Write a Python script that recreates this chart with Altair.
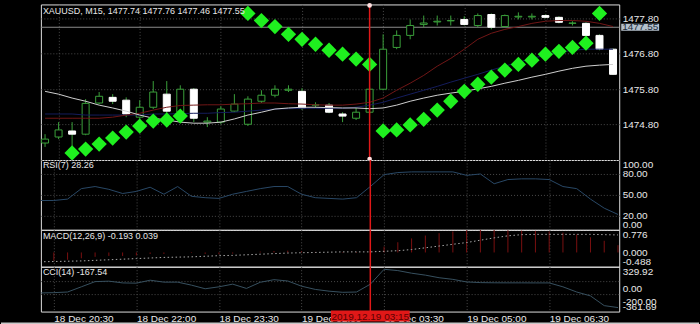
import json
import altair as alt
import pandas as pd

# ---------------- data ----------------
bar_index = list(range(-1, 42))
opens = [1474.28, 1474.45, 1474.62, 1474.53, 1475.41, 1475.57, 1475.49, 1475.01, 1475.29, 1475.66,
         1475.15, 1475.80, 1474.87, 1474.87, 1475.18, 1474.81, 1475.46, 1475.63, 1475.77, 1475.74,
         1475.35, 1475.35, 1475.10, 1474.98, 1475.15, 1475.80, 1476.98, 1477.32, 1477.63, 1477.70,
         1477.73, 1477.77, 1477.60, 1477.91, 1477.57, 1477.84, 1477.84, 1477.88, 1477.83, 1477.66,
         1477.66, 1477.32, 1476.93]
highs = [1474.53, 1474.87, 1474.87, 1475.52, 1475.72, 1475.66, 1475.57, 1475.49, 1476.03, 1476.03,
         1475.91, 1475.83, 1475.01, 1475.32, 1475.66, 1475.60, 1475.77, 1475.91, 1475.91, 1475.83,
         1475.43, 1475.41, 1475.15, 1475.27, 1475.86, 1477.35, 1477.46, 1477.77, 1477.88, 1477.88,
         1477.88, 1477.86, 1477.94, 1477.94, 1477.91, 1477.97, 1477.94, 1477.91, 1477.86, 1477.72,
         1477.69, 1477.35, 1476.95]
lows = [1474.17, 1474.39, 1474.11, 1474.50, 1475.38, 1475.38, 1475.01, 1474.96, 1475.24, 1475.12,
        1475.10, 1474.87, 1474.73, 1474.81, 1475.15, 1474.76, 1475.41, 1475.57, 1475.72, 1475.21,
        1475.27, 1475.12, 1474.87, 1474.93, 1475.10, 1475.77, 1476.93, 1477.21, 1477.55, 1477.60,
        1477.60, 1477.60, 1477.55, 1477.49, 1477.55, 1477.77, 1477.77, 1477.80, 1477.66, 1477.60,
        1477.29, 1476.90, 1476.20]
closes = [1474.39, 1474.65, 1474.53, 1475.40, 1475.60, 1475.46, 1475.10, 1475.29, 1475.72, 1475.18,
          1475.80, 1474.98, 1474.90, 1475.24, 1475.38, 1475.52, 1475.63, 1475.80, 1475.80, 1475.27,
          1475.36, 1475.15, 1475.04, 1475.15, 1475.80, 1476.93, 1477.32, 1477.60, 1477.67, 1477.72,
          1477.74, 1477.63, 1477.88, 1477.55, 1477.88, 1477.86, 1477.86, 1477.83, 1477.69, 1477.67,
          1477.32, 1476.93, 1476.22]
ma_white = [1475.74, 1475.66, 1475.55, 1475.46, 1475.35, 1475.27, 1475.18, 1475.07, 1474.98, 1474.93,
            1474.87, 1474.84, 1474.84, 1474.87, 1474.96, 1475.07, 1475.15, 1475.24, 1475.27, 1475.29,
            1475.29, 1475.28, 1475.27, 1475.27, 1475.25, 1475.27, 1475.35, 1475.46, 1475.55, 1475.63,
            1475.69, 1475.74, 1475.81, 1475.88, 1475.97, 1476.05, 1476.14, 1476.22, 1476.31, 1476.39,
            1476.45, 1476.48, 1476.50]
ma_red = [1474.98, 1474.98, 1474.98, 1474.98, 1474.98, 1475.01, 1475.07, 1475.12, 1475.21, 1475.29,
          1475.34, 1475.35, 1475.36, 1475.36, 1475.38, 1475.39, 1475.41, 1475.41, 1475.39, 1475.38,
          1475.36, 1475.35, 1475.35, 1475.38, 1475.43, 1475.55, 1475.77, 1475.97, 1476.19, 1476.45,
          1476.67, 1476.93, 1477.21, 1477.38, 1477.49, 1477.57, 1477.66, 1477.72, 1477.74, 1477.74,
          1477.72, 1477.66, 1477.57]
ma_blue = [1475.10, 1475.10, 1475.10, 1475.07, 1475.07, 1475.07, 1475.07, 1475.07, 1475.10, 1475.10,
           1475.11, 1475.12, 1475.12, 1475.14, 1475.15, 1475.18, 1475.21, 1475.24, 1475.25, 1475.26,
           1475.26, 1475.26, 1475.26, 1475.29, 1475.35, 1475.43, 1475.55, 1475.66, 1475.77, 1475.88,
           1476.00, 1476.11, 1476.22, 1476.34, 1476.45, 1476.56, 1476.67, 1476.76, 1476.84, 1476.90,
           1476.93, 1476.93, 1476.93]
sar = [None, None, 1474.00, 1474.11, 1474.25, 1474.42, 1474.59, 1474.76, 1474.90, 1474.93,
       1475.04, None, None, None, None, 1477.94, 1477.74, 1477.57, 1477.35, 1477.21,
       1477.07, 1476.90, 1476.79, 1476.65, 1476.50, 1474.62, 1474.65, 1474.79, 1474.95, 1475.21,
       1475.46, 1475.74, 1475.94, 1476.14, 1476.34, 1476.50, 1476.62, 1476.79, 1476.87, 1476.98,
       1477.10, 1477.94, None]
rsi = [42, 42, 44, 59, 62, 58, 52, 55, 61, 51,
       62, 48, 46, 45, 51, 55, 59, 62, 62, 51,
       46, 45, 44, 46, 62, 79, 82, 83, 83, 83,
       83, 78, 80, 66, 72, 73, 73, 72, 62, 59,
       44, 31, 22]
macd_hist = [-0.30, -0.28, -0.25, -0.20, -0.15, -0.12, -0.12, -0.10, -0.05, -0.05,
             0.00, -0.02, -0.05, -0.06, -0.04, 0.00, 0.03, 0.05, 0.06, 0.04,
             0.02, 0.00, -0.02, -0.02, 0.05, 0.20, 0.35, 0.48, 0.58, 0.66,
             0.72, 0.76, 0.776, 0.77, 0.76, 0.75, 0.74, 0.72, 0.68, 0.62,
             0.52, 0.40, 0.25]
macd_signal = [-0.32, -0.31, -0.30, -0.29, -0.27, -0.25, -0.23, -0.21, -0.19, -0.17,
               -0.16, -0.15, -0.13, -0.11, -0.10, -0.08, -0.06, -0.04, -0.02, -0.01,
               0.00, 0.01, 0.02, 0.02, 0.02, 0.04, 0.06, 0.10, 0.16, 0.22,
               0.28, 0.34, 0.42, 0.50, 0.57, 0.61, 0.62, 0.62, 0.62, 0.62,
               0.62, 0.61, 0.60]
cci = [-75, -70, -60, 20, 100, 107, 80, 76, 122, 92,
       92, 46, -10, 20, 61, -5, 90, 130, 110, 30,
       -20, -47, -65, -60, 60, 290, 270, 230, 200, 160,
       135, 95, 85, 82, 81, 81, 80, 80, 20, -60,
       -120, -270, -300]

tick_idx = [0, 6, 12, 18, 24, 30, 36]
tick_labels = ["18 Dec 20:30", "18 Dec 22:00", "18 Dec 23:30", "19 Dec 02:00",
               "19 Dec 03:30", "19 Dec 05:00", "19 Dec 06:30"]
price_ticks = [1474.80, 1475.80, 1476.80, 1477.80]
price_domain = [1473.80, 1478.194]
rsi_ticks = [0, 20, 50, 80, 100]
macd_ticks = [-0.488, 0.0, 0.776]
cci_ticks = [-361.69, -200.0, 0.0, 329.92]
cci_levels = [100, -100]
bid_price = 1477.55
cursor_index = 23
cursor_label = "2019.12.19 03:15"
title_text = "XAUUSD, M15, 1477.74 1477.76 1477.46 1477.55"
rsi_text = "RSI(7) 28.26"
macd_text = "MACD(12,26,9) -0.193 0.039"
cci_text = "CCI(14) -167.54"

df = pd.DataFrame(dict(i=bar_index, open=opens, high=highs, low=lows, close=closes,
                       maw=ma_white, mar=ma_red, mab=ma_blue, sar=sar, rsi=rsi,
                       hist=macd_hist, sig=macd_signal, cci=cci))
df["zero"] = 0.0

# ---------------- style ----------------
FONT = "Liberation Sans"
TXT = "#e8e8e8"
GRID = "#4a4a4a"
GREEN = "#3aa03a"
LIME = "#1ff01f"
RED = "#e01818"
W = 580
H_MAIN, H_RSI, H_MACD, H_CCI = 156, 70, 37, 45

xscale = alt.Scale(domain=[-0.94, 41.09], nice=False, zero=False)
grid_props = dict(grid=True, gridColor=GRID, gridDash=[1, 2], gridWidth=1)
x_axis_hidden = alt.Axis(values=tick_idx, labels=False, ticks=False, domain=False,
                         title=None, **grid_props)
label_expr_x = f"{json.dumps(tick_labels)}[indexof({json.dumps(tick_idx)}, datum.value)]"
x_axis_bottom = alt.Axis(values=tick_idx, labelExpr=label_expr_x, labelAlign="left",
                         labelBaseline="top", labelPadding=2, labelFlush=False,
                         labelOverlap=False, labelColor=TXT, labelFontSize=10,
                         labelFont=FONT, ticks=False, tickSize=0, domain=False,
                         title=None, **grid_props)


def yaxis(values, fmt, grid):
    props = dict(orient="right", values=values,
                 labelExpr=f"replace(format(datum.value, '{fmt}'), '\u2212', '-')",
                 ticks=False, domain=False, labelColor=TXT, labelFontSize=10,
                 labelFont=FONT, labelPadding=3, title=None, labelFlush=True,
                 labelOverlap=False)
    if grid:
        props.update(grid_props)
    else:
        props["grid"] = False
    return alt.Axis(**props)


def panel(height, yscale, yax, xax, layers_fn):
    def X(field=None, datum=None):
        if datum is not None:
            return alt.X(datum=datum, type="quantitative", scale=xscale, axis=xax)
        return alt.X(field, type="quantitative", scale=xscale, axis=xax)

    def Y(field=None, datum=None):
        if datum is not None:
            return alt.Y(datum=datum, type="quantitative", scale=yscale, axis=yax)
        return alt.Y(field, type="quantitative", scale=yscale, axis=yax)

    layers = layers_fn(X, Y)
    return alt.layer(*layers).properties(width=W, height=height)


def label_chart(text, yv):
    return alt.Chart(pd.DataFrame({"t": [text]})).mark_text(
        align="left", baseline="middle", color=TXT, fontSize=9, font=FONT
    ).encode(x=alt.value(2), y=alt.value(yv), text="t:N")


def cursor_rule(X):
    return alt.Chart(pd.DataFrame({"c": [cursor_index]})).mark_rule(
        color=RED, strokeWidth=1.5).encode(x=X(datum=cursor_index))


# ---- main price panel ----
def main_layers(X, Y):
    base = alt.Chart(df)
    bid = pd.DataFrame({"p": [bid_price]})
    bull = "datum.close >= datum.open"
    return [
        alt.Chart(bid).mark_rule(color="#8c8c8c", strokeWidth=1).encode(y=Y("p")),
        base.mark_rule(color=GREEN, strokeWidth=1, clip=True).encode(
            x=X("i"), y=Y("low"), y2="high:Q"),
        base.mark_bar(size=7, strokeWidth=1, clip=True).encode(
            x=X("i"), y=Y("open"), y2="close:Q",
            fill=alt.condition(bull, alt.value("#000000"), alt.value("#ffffff")),
            stroke=alt.condition(bull, alt.value(GREEN), alt.value("#ffffff"))),
        base.mark_line(color="#141c5c", strokeWidth=1, clip=True).encode(x=X("i"), y=Y("mab")),
        base.mark_line(color="#701616", strokeWidth=1, clip=True).encode(x=X("i"), y=Y("mar")),
        base.mark_line(color="#cfcfcf", strokeWidth=1, clip=True).encode(x=X("i"), y=Y("maw")),
        base.mark_point(shape="diamond", filled=True, size=235, color=LIME, opacity=1,
                        clip=True).encode(x=X("i"), y=Y("sar")),
        cursor_rule(X),
        alt.Chart(pd.DataFrame({"c": [cursor_index]})).mark_point(
            shape="circle", filled=True, size=22, color="#ffe0e0", opacity=1
        ).encode(x=X(datum=cursor_index), y=alt.value(1)),
        alt.Chart(pd.DataFrame({"c": [cursor_index]})).mark_point(
            shape="circle", filled=True, size=22, color="#ffe0e0", opacity=1
        ).encode(x=X(datum=cursor_index), y=alt.value(155)),
        label_chart(title_text, 7),
        alt.Chart(bid).transform_calculate(lo="datum.p - 0.1", hi="datum.p + 0.1").mark_rect(
            color="#b4c0cc").encode(x=alt.value(582), x2=alt.value(620), y=Y("lo"), y2="hi:Q"),
        alt.Chart(bid).mark_text(align="left", baseline="middle", color="#1a2a3a",
                                 fontSize=10, font=FONT).encode(
            x=alt.value(583), y=Y("p"), text=alt.Text("p:Q", format=".2f")),
    ]


main = panel(H_MAIN, alt.Scale(domain=price_domain, nice=False, zero=False),
             yaxis(price_ticks, ".2f", True), x_axis_hidden, main_layers)


# ---- RSI ----
def rsi_layers(X, Y):
    return [
        alt.Chart(df).mark_line(color="#294866", strokeWidth=1, clip=True).encode(
            x=X("i"), y=Y("rsi")),
        cursor_rule(X),
        label_chart(rsi_text, 5),
    ]


rsi_p = panel(H_RSI, alt.Scale(domain=[0, 100], nice=False, zero=False),
              yaxis(rsi_ticks, ".2f", True), x_axis_hidden, rsi_layers)


# ---- MACD ----
def macd_layers(X, Y):
    return [
        alt.Chart(df).mark_rule(color="#7a1010", strokeWidth=1, clip=True).encode(
            x=X("i"), y=Y("hist"), y2="zero:Q"),
        alt.Chart(df).mark_line(color="#a8a8a8", strokeWidth=1, strokeDash=[1.5, 2.5],
                                clip=True).encode(x=X("i"), y=Y("sig")),
        cursor_rule(X),
        label_chart(macd_text, 6),
    ]


macd_p = panel(H_MACD, alt.Scale(domain=[-0.488, 0.776], nice=False, zero=False),
               yaxis(macd_ticks, ".3f", False), x_axis_hidden, macd_layers)


# ---- CCI ----
def cci_layers(X, Y):
    return [
        alt.Chart(pd.DataFrame({"lv": cci_levels})).mark_rule(
            color=GRID, strokeDash=[1, 2], strokeWidth=1).encode(y=Y("lv")),
        alt.Chart(df).mark_line(color="#37505f", strokeWidth=1, clip=True).encode(
            x=X("i"), y=Y("cci")),
        cursor_rule(X),
        label_chart(cci_text, 5),
        alt.Chart(pd.DataFrame({"c": [cursor_index]})).mark_rect(color=RED).encode(
            x=X(datum=cursor_index - 2.86), x2=alt.X2(datum=cursor_index + 2.86),
            y=alt.value(44), y2=alt.value(55)),
        alt.Chart(pd.DataFrame({"t": [cursor_label]})).mark_text(
            align="center", baseline="middle", color="#5c0000", fontSize=10, font=FONT
        ).encode(x=X(datum=cursor_index), y=alt.value(50), text="t:N"),
        alt.Chart(pd.DataFrame({"c": [0]})).mark_rect(color="#c8c8c8").encode(
            x=alt.value(-40), x2=alt.value(660), y=alt.value(56), y2=alt.value(59)),
    ]


cci_p = panel(H_CCI, alt.Scale(domain=[-361.69, 329.92], nice=False, zero=False),
              yaxis(cci_ticks, ".2f", False), x_axis_bottom, cci_layers)

chart = alt.vconcat(main, rsi_p, macd_p, cci_p, spacing=0, bounds="flush").properties(
    background="#000000",
    padding={"left": 0, "top": 2, "right": 0, "bottom": 0},
).configure_view(stroke="#707070", strokeWidth=1).configure(font=FONT)

chart.save("out.html", embed_options={"renderer": "svg", "actions": False})
